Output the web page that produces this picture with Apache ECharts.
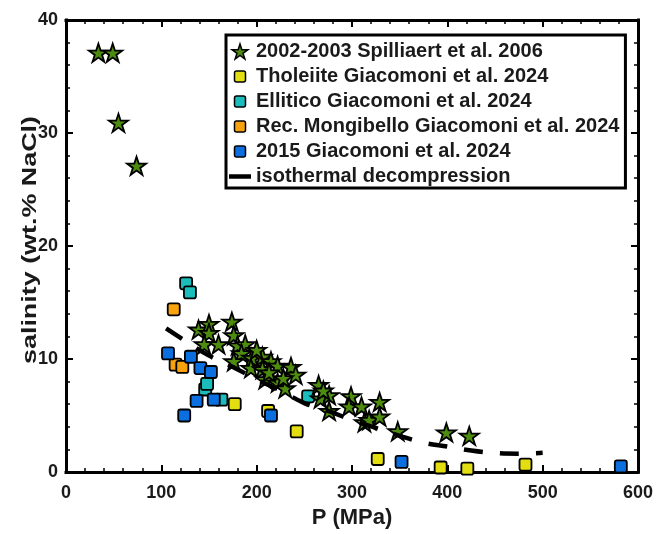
<!DOCTYPE html>
<html>
<head>
<meta charset="utf-8">
<script src="https://cdn.jsdelivr.net/npm/echarts@6/dist/echarts.min.js"></script>
<style>
  html, body { margin: 0; padding: 0; background: #fff; }
  #chart { width: 656px; height: 534px; }
</style>
</head>
<body>
<div id="chart"></div>
<script>
// Fluid-inclusion salinity versus entrapment pressure (Etna)
const pressureTicks = [0, 100, 200, 300, 400, 500, 600];
const salinityTicks = [0, 10, 20, 30, 40];

const seriesNames = [
  '2002-2003 Spilliaert et al. 2006',
  'Tholeiite Giacomoni et al. 2024',
  'Ellitico Giacomoni et al. 2024',
  'Rec. Mongibello Giacomoni et al. 2024',
  '2015 Giacomoni et al. 2024',
  'isothermal decompression'
];

// [P (MPa), salinity (wt.% NaCl)]
const spilliaert2006 = [
  [34, 37.1], [49, 37.1], [55, 30.9], [74, 27.1],
  [139, 12.6], [150, 13.1], [150, 12.3], [145, 11.3], [160, 11.3],
  [174, 13.3], [176, 12.1], [180, 11.2], [188, 11.3], [184, 10.5], [176, 9.8],
  [195, 10.1], [206, 10.2], [215, 9.8], [194, 9.2], [206, 9.1],
  [209, 8.2], [222, 7.9], [230, 7.4], [222, 9.4], [236, 9.3], [241, 8.6],
  [200, 10.8], [228, 8.3], [213, 8.8],
  [265, 7.7], [267, 6.5], [276, 6.8], [276, 5.4], [270, 7.2],
  [299, 6.7], [297, 5.8], [310, 5.8], [313, 4.4], [318, 4.6], [329, 6.2], [329, 4.9],
  [348, 3.6], [399, 3.5], [423, 3.2]
];
const tholeiite2024 = [
  [177, 6.0], [212, 5.4], [242, 3.6], [327, 1.15], [393, 0.4], [421, 0.3], [482, 0.65]
];
const ellitico2024 = [
  [126, 16.7], [130, 15.9], [146, 7.3], [148, 7.8], [163, 6.4], [254, 6.7]
];
const mongibello2024 = [
  [113, 14.4], [115, 9.5], [122, 9.3]
];
const eruption2015 = [
  [107, 10.5], [131, 10.2], [141, 9.2], [152, 8.85], [137, 6.3], [155, 6.4],
  [124, 5.0], [215, 5.0], [352, 0.9], [582, 0.5]
];
const decompressionP = [105, 125, 150, 175, 200, 225, 250, 275, 300, 325, 350, 375, 400, 425, 450, 475, 500];
const decompressionS = [12.7, 11.6, 10.3, 9.3, 8.2, 7.2, 6.1, 5.4, 4.6, 3.9, 3.2, 2.6, 2.25, 1.9, 1.68, 1.62, 1.7];

const FONT = '"Liberation Sans", Arial, Helvetica, sans-serif';
const INK = '#1a1a1a';

const STAR = 'path://M50,0L61.23,34.55L97.55,34.55L68.17,55.9L79.39,90.45L50,69.1L20.61,90.45L31.83,55.9L2.45,34.55L38.77,34.55Z';
const SQUARE = 'path://M2,0H9Q11,0 11,2V9Q11,11 9,11H2Q0,11 0,9V2Q0,0 2,0Z';
const LEGEND_SQUARE = 'path://M0,0M15,15M4,2H11Q13,2 13,4V11Q13,13 11,13H4Q2,13 2,11V4Q2,2 4,2Z';
const LEGEND_BAR = 'path://M0,0H22V4.5H0Z';

const colors = {
  star: '#4e8c10',
  tholeiite: '#e2de12',
  ellitico: '#1bbcbc',
  mongibello: '#f8a30e',
  y2015: '#0b6fe0'
};

function tickAxis(position, showLabel, ticks, extra) {
  return Object.assign({
    type: 'value',
    position: position,
    min: ticks[0],
    max: ticks[ticks.length - 1],
    interval: ticks[1] - ticks[0],
    splitLine: { show: false },
    axisLine: { show: true, onZero: false, lineStyle: { color: '#000', width: 3, cap: 'square' } },
    axisTick: { show: true, inside: true, length: 7, lineStyle: { color: '#000', width: 2 } },
    minorTick: { show: true, splitNumber: 5, length: 4, lineStyle: { color: '#000', width: 1.5 } },
    axisLabel: {
      show: showLabel, color: INK, fontFamily: FONT, fontWeight: 'bold', fontSize: 18
    }
  }, extra || {});
}

function scatterSeries(name, data, symbol, size, color, border) {
  return {
    name: name,
    type: 'scatter',
    data: data,
    symbol: symbol,
    symbolSize: size,
    symbolKeepAspect: true,
    itemStyle: { color: color, borderColor: '#000', borderWidth: border, opacity: 1 },
    emphasis: { disabled: true }
  };
}

const chart = echarts.init(document.getElementById('chart'), null, { renderer: 'canvas' });

chart.setOption({
  animation: false,
  backgroundColor: '#fff',
  grid: { left: 66, right: 18, top: 20, bottom: 59, containLabel: false },
  xAxis: [
    tickAxis('bottom', true, pressureTicks, {
      name: 'P (MPa)',
      nameLocation: 'middle',
      nameGap: 35,
      nameTextStyle: { color: INK, fontFamily: FONT, fontWeight: 'bold', fontSize: 22 },
      axisLabel: { show: true, color: INK, fontFamily: FONT, fontWeight: 'bold', fontSize: 18, margin: 12 }
    }),
    tickAxis('top', false, pressureTicks)
  ],
  yAxis: [
    tickAxis('left', true, salinityTicks, {
      axisLabel: { show: true, color: INK, fontFamily: FONT, fontWeight: 'bold', fontSize: 18, margin: 8 }
    }),
    tickAxis('right', false, salinityTicks)
  ],
  legend: {
    orient: 'vertical',
    left: 226,
    top: 35,
    padding: [6.5, 6, 1.5, 3],
    itemWidth: 22,
    itemHeight: 15,
    itemGap: 5,
    backgroundColor: '#fff',
    borderColor: '#000',
    borderWidth: 3,
    borderRadius: 0,
    selectedMode: false,
    textStyle: { color: INK, fontFamily: FONT, fontWeight: 'bold', fontSize: 20, lineHeight: 20 },
    data: [
      { name: seriesNames[0], icon: STAR, itemStyle: { color: colors.star, borderColor: '#000', borderWidth: 1.5 } },
      { name: seriesNames[1], icon: LEGEND_SQUARE, itemStyle: { color: colors.tholeiite, borderColor: '#000', borderWidth: 1.5 } },
      { name: seriesNames[2], icon: LEGEND_SQUARE, itemStyle: { color: colors.ellitico, borderColor: '#000', borderWidth: 1.5 } },
      { name: seriesNames[3], icon: LEGEND_SQUARE, itemStyle: { color: colors.mongibello, borderColor: '#000', borderWidth: 1.5 } },
      { name: seriesNames[4], icon: LEGEND_SQUARE, itemStyle: { color: colors.y2015, borderColor: '#000', borderWidth: 1.5 } },
      { name: seriesNames[5], icon: LEGEND_BAR, itemStyle: { color: '#000', borderWidth: 0 } }
    ]
  },
  graphic: [{
    type: 'text',
    x: 30,
    y: 240,
    rotation: Math.PI / 2,
    scaleX: 1.28,
    style: {
      text: 'salinity (wt.% NaCl)',
      fill: INK,
      font: 'bold 21px ' + FONT,
      align: 'center',
      verticalAlign: 'middle'
    }
  }],
  series: [
    scatterSeries(seriesNames[1], tholeiite2024, SQUARE, 12, colors.tholeiite, 1.8),
    scatterSeries(seriesNames[2], ellitico2024, SQUARE, 12, colors.ellitico, 1.8),
    scatterSeries(seriesNames[3], mongibello2024, SQUARE, 12, colors.mongibello, 1.8),
    scatterSeries(seriesNames[4], eruption2015, SQUARE, 12, colors.y2015, 1.8),
    scatterSeries(seriesNames[0], spilliaert2006, STAR, 19, colors.star, 1.8),
    {
      name: seriesNames[5],
      type: 'line',
      data: decompressionP.map((p, i) => [p, decompressionS[i]]),
      smooth: 0.4,
      symbol: 'none',
      color: '#000',
      lineStyle: { color: '#000', width: 4.5, type: [19, 17], cap: 'butt' },
      emphasis: { disabled: true },
      z: 3
    }
  ]
});
</script>
</body>
</html>
